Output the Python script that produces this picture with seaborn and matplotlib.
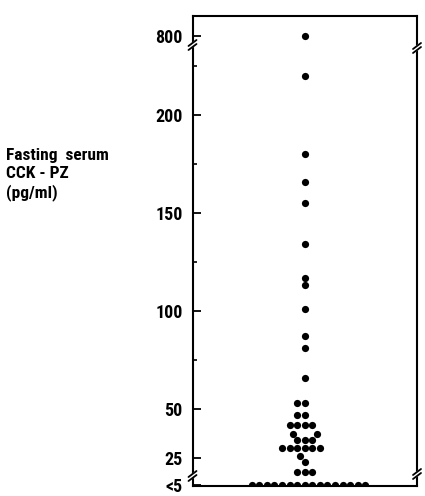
import numpy as np
import pandas as pd
import matplotlib
matplotlib.use("Agg")
import matplotlib.pyplot as plt
import seaborn as sns
from matplotlib.ticker import FixedLocator, FixedFormatter, NullFormatter

# ---- data (pg/ml); "<5" entries are stored as 4 ----
high_values = [800, 220]
mid_values = [180, 166, 155, 134, 117, 113, 101, 87, 81, 66]
low_values = [53, 53, 47, 47, 42, 42, 42, 42, 37, 37, 34, 34, 34,
              30, 30, 30, 30, 30, 30, 26, 23, 18, 18, 18]
below_limit = [4, 4, 4, 4, 4, 4, 4, 4, 4, 4, 4, 4, 4, 4, 4, 4]

tick_values = [4, 25, 50, 100, 150, 200, 800]
tick_labels = ["<5", "25", "50", "100", "150", "200", "800"]
minor_values = [75, 125, 175, 225]

values = high_values + mid_values + low_values + below_limit
df = pd.DataFrame({"group": ["fasting"] * len(values), "cck": values})

# ---- broken axis as a piecewise function scale ----
def fwd(v):
    v = np.asarray(v, dtype=float)
    return np.piecewise(v, [v < 15, (v >= 15) & (v <= 230), v > 230],
                        [lambda x: 11 + (x - 4) * (4 / 11),
                         lambda x: x,
                         lambda x: 230 + (x - 230) * (10.3 / 570)])

def inv(p):
    p = np.asarray(p, dtype=float)
    return np.piecewise(p, [p < 15, (p >= 15) & (p <= 230), p > 230],
                        [lambda y: 4 + (y - 11) * (11 / 4),
                         lambda y: y,
                         lambda y: 230 + (y - 230) * (570 / 10.3)])

sns.set_style("white")
plt.rcParams["font.family"] = ["Roboto Condensed", "DejaVu Sans"]
plt.rcParams["font.stretch"] = "condensed"
plt.rcParams["text.color"] = "black"

W, H = 425, 496
fig = plt.figure(figsize=(W / 100, H / 100), dpi=100)
L, R, T, B = 192.5, 417, 16, 486
ax = fig.add_axes([L / W, 1 - B / H, (R - L) / W, (B - T) / H])
ax.set_yscale("function", functions=(fwd, inv))

sns.swarmplot(data=df, x="group", y="cck", ax=ax, color="black", size=5.2,
              linewidth=0)

ax.set_ylim(float(inv(10.7)), float(inv(250.5)))
ax.set_xlim(-0.5, 0.5)
ax.set_xticks([])
ax.set_xlabel("")
ax.set_ylabel("")

ax.yaxis.set_major_locator(FixedLocator(tick_values))
ax.yaxis.set_major_formatter(FixedFormatter(tick_labels))
ax.yaxis.set_minor_locator(FixedLocator(minor_values))
ax.yaxis.set_minor_formatter(NullFormatter())
ax.tick_params(axis="y", which="major", direction="in", length=6, width=1.3,
               pad=7, labelsize=13, left=True, colors="black")
ax.tick_params(axis="y", which="minor", direction="in", length=3, width=1.2,
               left=True, colors="black")
for lab in ax.get_yticklabels():
    lab.set_fontweight("bold")
    lab.set_fontstretch("condensed")

for s in ax.spines.values():
    s.set_visible(True)
    s.set_color("black")
    s.set_linewidth(1.5)

# axis break marks on both vertical spines
def brk(xpix, ypix):
    xa = (xpix - L) / (R - L)
    ya = (B - ypix) / (B - T)
    dx = 4 / (R - L)
    dy = 3 / (B - T)
    g = 4 / (B - T)
    ax.fill([xa - dx, xa + dx, xa + dx, xa - dx],
            [ya - g - dy, ya - g + dy, ya + dy, ya - dy],
            color="white", transform=ax.transAxes, clip_on=False, zorder=5)
    for off in (0, -g):
        ax.plot([xa - dx, xa + dx], [ya + off - dy, ya + off + dy],
                color="black", lw=1.3, transform=ax.transAxes,
                clip_on=False, zorder=6)

brk(L, 43)
brk(L, 474)
brk(R, 46)
brk(R, 472)

fig.text(6 / W, 1 - 148 / H, "Fasting  serum\nCCK - PZ\n(pg/ml)",
         ha="left", va="top", fontsize=12.5, fontweight="bold",
         fontstretch="condensed", linespacing=1.25, color="black")

fig.savefig("out.png", dpi=100)
